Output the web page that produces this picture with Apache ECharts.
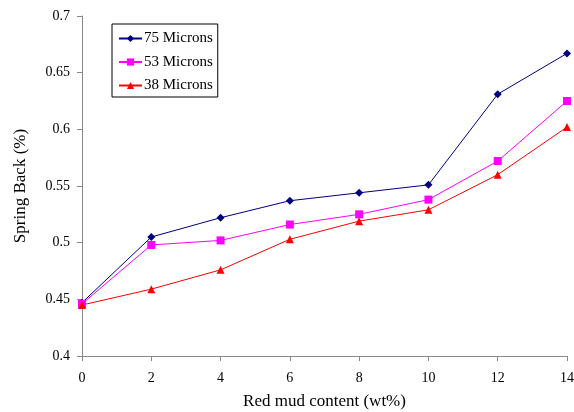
<!DOCTYPE html>
<html>
<head>
<meta charset="utf-8">
<script src="https://cdn.jsdelivr.net/npm/echarts@6/dist/echarts.min.js"></script>
<style>html,body{margin:0;padding:0;background:#fff;}#c{width:574px;height:412px;}</style>
</head>
<body>
<div id="c"></div>
<script>
const categories = [0, 2, 4, 6, 8, 10, 12, 14];
const s75 = [0.447, 0.505, 0.522, 0.537, 0.544, 0.551, 0.631, 0.667];
const s53 = [0.446, 0.498, 0.502, 0.516, 0.525, 0.538, 0.572, 0.625];
const s38 = [0.445, 0.459, 0.476, 0.503, 0.519, 0.529, 0.560, 0.602];
const seriesNames = ['75 Microns', '53 Microns', '38 Microns'];

const font = 'Liberation Serif';
const chart = echarts.init(document.getElementById('c'), null, {renderer: 'canvas'});
function pts(arr){ return categories.map((x,i)=>[x, arr[i]]); }
chart.setOption({
  animation: false,
  backgroundColor: '#fff',
  textStyle: {fontFamily: font},
  grid: {left: 82, right: 7, top: 16, bottom: 56, containLabel: false, outerBoundsMode: 'none'},
  legend: {
    left: 112, top: 24, orient: 'vertical',
    borderColor: '#000', borderWidth: 1, backgroundColor: '#fff',
    padding: [7, 5, 4, 6],
    itemWidth: 23, itemHeight: 9, itemGap: 8.5,
    textStyle: {fontFamily: font, fontSize: 15, color: '#000', lineHeight: 15, padding: [0,0,0,-3]},
    data: seriesNames
  },
  xAxis: {
    type: 'value', min: 0, max: 14, interval: 2,
    name: 'Red mud content (wt%)', nameLocation: 'middle', nameGap: 37,
    nameTextStyle: {fontFamily: font, fontSize: 17, color: '#000'},
    axisLine: {lineStyle: {color: '#888', width: 1}},
    axisTick: {show: true, length: 5, lineStyle: {color: '#888'}},
    axisLabel: {fontFamily: font, fontSize: 14, color: '#000', margin: 15},
    splitLine: {show: false}
  },
  yAxis: {
    type: 'value', min: 0.4, max: 0.7, interval: 0.05,
    name: 'Spring Back (%)', nameLocation: 'middle', nameGap: 53,
    nameTextStyle: {fontFamily: font, fontSize: 17, color: '#000'},
    axisLine: {show: true, lineStyle: {color: '#888', width: 1}},
    axisTick: {show: true, length: 5, lineStyle: {color: '#888'}},
    axisLabel: {fontFamily: font, fontSize: 14, color: '#000', margin: 12,
      formatter: v => String(Math.round(v*100)/100)},
    splitLine: {show: false}
  },
  series: [
    {name: seriesNames[0], type: 'line', data: pts(s75), symbol: 'diamond', symbolSize: 8,
     lineStyle: {color: '#000080', width: 1}, itemStyle: {color: '#000080'}},
    {name: seriesNames[1], type: 'line', data: pts(s53), symbol: 'rect', symbolSize: 8,
     lineStyle: {color: '#ff00ff', width: 1}, itemStyle: {color: '#ff00ff'}},
    {name: seriesNames[2], type: 'line', data: pts(s38), symbol: 'triangle', symbolSize: 8,
     lineStyle: {color: '#ff0000', width: 1}, itemStyle: {color: '#ff0000'}}
  ]
});
</script>
</body>
</html>
